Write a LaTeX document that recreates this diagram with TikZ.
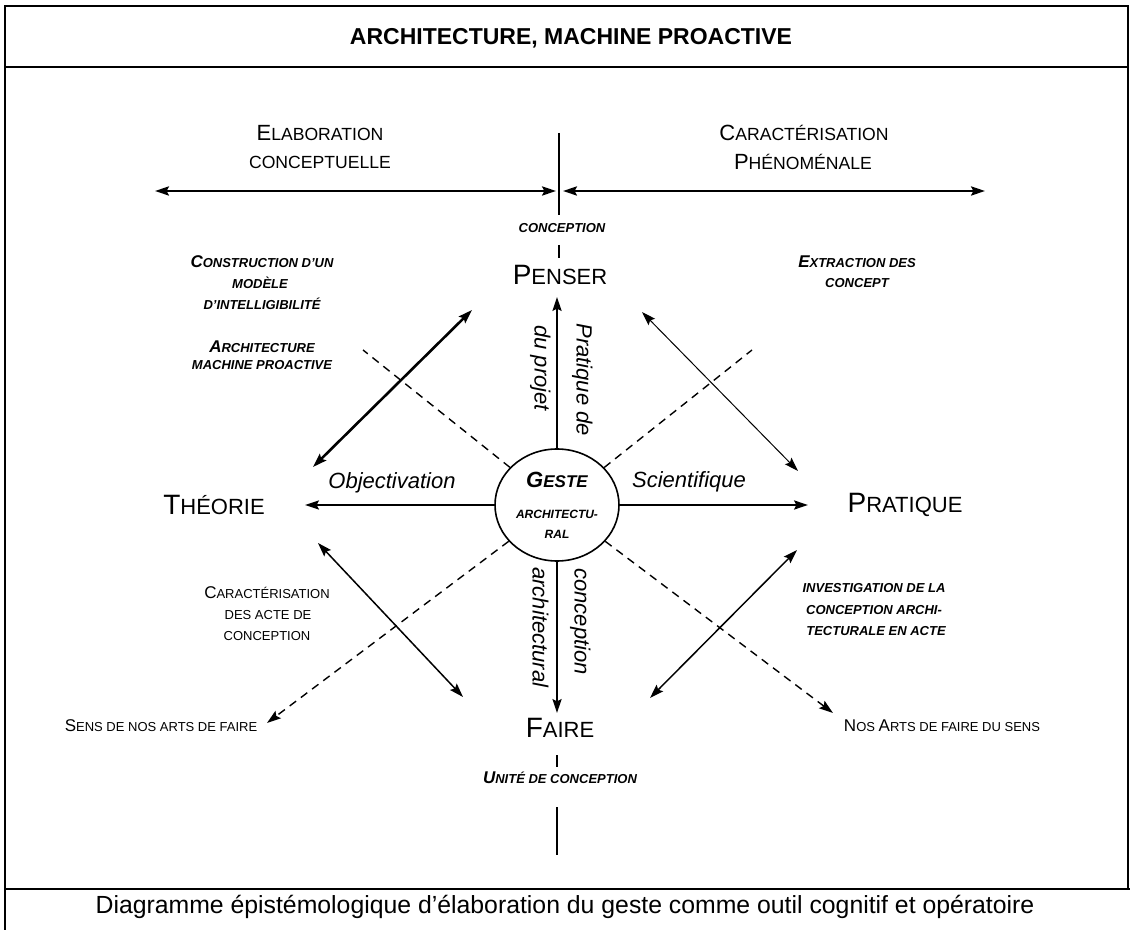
\documentclass[tikz,border=0pt]{standalone}
\usepackage{fontspec}
\setmainfont{Liberation Sans}
\usetikzlibrary{arrows.meta,shapes.geometric}
\newcommand\SCa[2]{{\fontsize{14}{16}\selectfont #1}{\fontsize{11}{13}\selectfont #2}}
\newcommand\SCb[2]{{\fontsize{11}{13}\selectfont #1}{\fontsize{8.8}{11}\selectfont #2}}
\newcommand\SCc[2]{{\fontsize{8.5}{10}\selectfont #1}{\fontsize{6.5}{8}\selectfont #2}}
\begin{document}
\begin{tikzpicture}[x=0.5pt,y=-0.5pt,
  every node/.style={inner sep=0pt},
  frame/.style={line width=1pt},
  tip/.style={Stealth[length=7pt,width=4.6pt,inset=1.2pt]},
  arr/.style={-{Stealth[length=7pt,width=4.6pt,inset=1.2pt]}, line width=0.75pt},
  darr/.style={{Stealth[length=7pt,width=4.6pt,inset=1.2pt]}-{Stealth[length=7pt,width=4.6pt,inset=1.2pt]}},
  dsh/.style={dashed, dash pattern=on 4pt off 3pt, line width=0.7pt},
  big/.style={font=\fontsize{11}{13}\selectfont},
  head/.style={font=\fontsize{8.8}{11}\selectfont},
  ital/.style={font=\fontsize{11}{13}\selectfont\itshape},
  sbi/.style={font=\bfseries\itshape\fontsize{6.5}{8}\selectfont},
  sr/.style={font=\fontsize{6.5}{8}\selectfont}
]
\useasboundingbox (0,0) rectangle (1130,930);
% frame
\draw[frame] (5,930) -- (5,6) -- (1128,6) -- (1128,889);
\draw[frame] (5,67) -- (1128,67);
\draw[frame] (5,889) -- (1130,889);

% title and caption
\node[font=\bfseries\fontsize{11.5}{13}\selectfont] (title) at (571,38) {ARCHITECTURE, MACHINE PROACTIVE};
\node[font=\fontsize{12.4}{14}\selectfont] (caption) at (565,907) {Diagramme épistémologique d’élaboration du geste comme outil cognitif et opératoire};

% top headings
\node[head] (elabA) at (320,133) {\SCb{E}{LABORATION}};
\node[head] (elabB) at (320,162) {CONCEPTUELLE};
\node[head] (caraA) at (804,133) {\SCb{C}{ARACTÉRISATION}};
\node[head] (caraB) at (803,162) {\SCb{P}{HÉNOMÉNALE}};

\coordinate (hL1) at (155,191);
\coordinate (hL2) at (556,191);
\coordinate (hR1) at (563,191);
\coordinate (hR2) at (985,191);
\coordinate (vT1) at (559,133);
\coordinate (vT2) at (559,215);
\draw[darr, line width=0.9pt] (hL1) -- (hL2);
\draw[darr, line width=0.9pt] (hR1) -- (hR2);
\draw[line width=0.6pt] (vT1) -- (vT2);

% central axis labels
\node[sbi] (concTop) at (562,228) {CONCEPTION};
\coordinate (tk1a) at (559,245);
\coordinate (tk1b) at (559,258);
\draw[line width=0.6pt] (tk1a) -- (tk1b);
\node[big] (penser) at (560,275) {\SCa{P}{ENSER}};
\node[big] (faire) at (560,728) {\SCa{F}{AIRE}};
\coordinate (tk2a) at (557,755);
\coordinate (tk2b) at (557,767);
\draw[line width=0.6pt] (tk2a) -- (tk2b);
\node[sbi] (unite) at (560,778) {\SCc{U}{NITÉ DE CONCEPTION}};
\coordinate (vB1) at (557,807);
\coordinate (vB2) at (557,855);
\draw[line width=0.6pt] (vB1) -- (vB2);
\node[big] (theorie) at (214,505) {\SCa{T}{HÉORIE}};
\node[big] (pratique) at (905,505) {\SCa{P}{RATIQUE}};

% central ellipse
\node[draw, ellipse, line width=0.8pt, minimum width=62pt, minimum height=56pt, align=center,
      font=\bfseries\itshape\fontsize{6}{10}\selectfont] (geste) at (557,505)
      {{\fontsize{11}{13}\selectfont G}{\fontsize{8.5}{10}\selectfont ESTE}\\[5.5pt]ARCHITECTU-\\RAL};

% axis arrows
\coordinate (penArr) at (557,297);
\coordinate (faiArr) at (557,713);
\coordinate (theArr) at (305,505);
\coordinate (praArr) at (808,505);
\draw[arr] (geste) -- (penArr);
\draw[arr] (geste) -- (faiArr);
\draw[arr] (geste) -- (theArr);
\draw[arr] (geste) -- (praArr);

\node[ital, rotate=-90, anchor=mid west] (pratDe) at (582,323) {Pratique de};
\node[ital, rotate=-90, anchor=mid west] (duProj) at (540,325) {du projet};
\node[ital, rotate=-90, anchor=mid west] (archi) at (538,567) {architectural};
\node[ital, rotate=-90, anchor=mid west] (concR) at (580,568) {conception};
\node[ital] (objec) at (392,483) {Objectivation};
\node[ital] (scien) at (689,482) {Scientifique};

% diagonal double arrows
\coordinate (nwA) at (472,310);
\coordinate (nwB) at (313,467);
\coordinate (neA) at (642,312);
\coordinate (neB) at (798,471);
\coordinate (swA) at (318,543);
\coordinate (swB) at (463,697);
\coordinate (seA) at (797,550);
\coordinate (seB) at (650,698);
\draw[darr, line width=1.3pt] (nwA) -- (nwB);
\draw[darr, line width=0.5pt] (neA) -- (neB);
\draw[darr, line width=0.75pt] (swA) -- (swB);
\draw[darr, line width=0.75pt] (seA) -- (seB);

% dashed rays
\coordinate (dNW) at (363,350);
\coordinate (dNE) at (752,350);
\coordinate (dSW) at (267,723);
\coordinate (dSE) at (833,713);
\draw[dsh] (geste) -- (dNW);
\draw[dsh] (geste) -- (dNE);
\draw[dsh, -{Stealth[length=7pt,width=4.6pt,inset=1.2pt]}] (geste) -- (dSW);
\draw[dsh, -{Stealth[length=7pt,width=4.6pt,inset=1.2pt]}] (geste) -- (dSE);

% quadrant texts
\node[sbi] (consA) at (262,262) {\SCc{C}{ONSTRUCTION D’UN}};
\node[sbi] (consB) at (260,283) {MODÈLE};
\node[sbi] (consC) at (262,304) {D’INTELLIGIBILITÉ};
\node[sbi] (archA) at (262,347) {\SCc{A}{RCHITECTURE}};
\node[sbi] (archB) at (262,365) {MACHINE PROACTIVE};
\node[sbi] (extrA) at (857,262) {\SCc{E}{XTRACTION DES}};
\node[sbi] (extrB) at (857,283) {CONCEPT};
\node[sr] (caracA) at (267,593) {\SCc{C}{ARACTÉRISATION}};
\node[sr] (caracB) at (268,615) {DES ACTE DE};
\node[sr] (caracC) at (267,636) {CONCEPTION};
\node[sr] (sens) at (161,726) {\SCc{S}{ENS DE NOS ARTS DE FAIRE}};
\node[sbi] (invA) at (874,588) {INVESTIGATION DE LA};
\node[sbi] (invB) at (874,610) {CONCEPTION ARCHI-};
\node[sbi] (invC) at (876,631) {TECTURALE EN ACTE};
\node[sr] (nosA) at (942,726) {\SCc{N}{OS} \SCc{A}{RTS DE FAIRE DU SENS}};
\end{tikzpicture}
\end{document}
